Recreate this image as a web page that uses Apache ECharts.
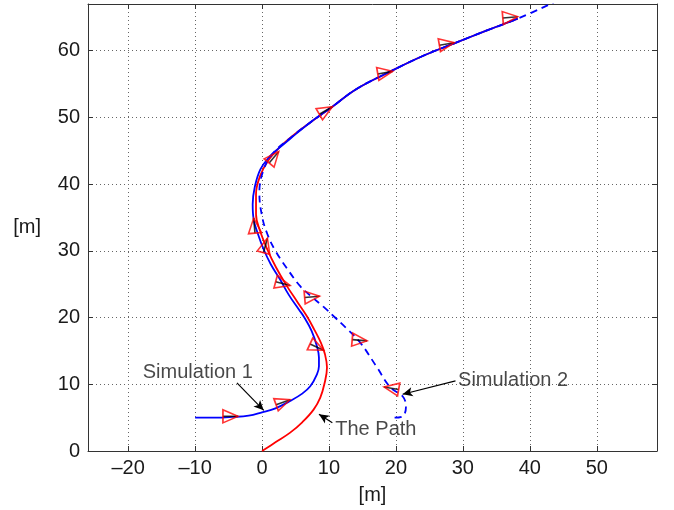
<!DOCTYPE html>
<html>
<head>
<meta charset="utf-8">
<script src="https://cdn.jsdelivr.net/npm/echarts@6/dist/echarts.min.js"></script>
<style>
  html, body { margin: 0; padding: 0; background: #fff; }
  #chart { width: 674px; height: 510px; }
</style>
</head>
<body>
<div id="chart"></div>
<script>
// axis ticks
const xTicks = [-20, -10, 0, 10, 20, 30, 40, 50]
const yTicks = [0, 10, 20, 30, 40, 50, 60]

// The Path (red)
const pathX = [0, 2, 4.2, 6, 7.7, 8.7, 9.3, 9.7, 9.4, 8.8, 7.8, 6.7, 5.3, 3.6, 2.1, 0.8, -0.3, -0.9, -0.9, -0.3, 0.9, 2.6, 4.5, 7, 10.5, 14, 19.2, 24, 28.7, 33.5, 38.2]
const pathY = [0, 1.3, 2.75, 4.3, 6.2, 8, 10, 12.5, 14.5, 16.2, 18.2, 20.2, 22.3, 24.9, 27.5, 30.2, 33, 35.5, 38.5, 41.2, 43.5, 45.5, 47.2, 49.1, 51.6, 54.2, 56.9, 59.2, 61.1, 63, 64.8]

// Simulation 1 (blue solid)
const sim1X = [-10, -7, -4.5, -2, 0, 2, 4.2, 6, 7.2, 8.2, 8.5, 8.5, 8.2, 7.4, 6.2, 5.5, 4, 2.7, 1.3, 0.25, -0.6, -1.25, -1.4, -1.1, -0.25, 1.2, 2.3, 4.2, 7, 10.5, 14, 19.2, 24, 28.7, 33.5, 38.2]
const sim1Y = [5, 5, 5.1, 5.3, 5.8, 6.4, 7.5, 8.6, 9.7, 11.5, 12.7, 14, 15.7, 18, 20.2, 21.2, 23.4, 25.7, 28, 30.2, 32.5, 34.7, 37, 39.5, 42.2, 44.2, 45.2, 46.8, 49.1, 51.6, 54.2, 56.9, 59.2, 61.1, 63, 64.8]

// Simulation 2 (blue dashed)
const sim2X = [19.8, 21, 21.5, 21, 19.2, 17, 14.7, 12.5, 10.7, 9.2, 7.2, 5.7, 3.7, 2, 0.8, 0, -0.4, 0.25, 1.7, 4.2, 7, 10.5, 14, 19.2, 24, 28.7, 33.5, 38.2, 43.5]
const sim2Y = [5, 5.2, 6.7, 8.2, 9.5, 12.8, 16.2, 18.5, 20.2, 21.6, 23.3, 24.7, 27.4, 30, 32.5, 35.2, 38.7, 42.2, 44.7, 46.9, 49.1, 51.6, 54.2, 56.9, 59.2, 61.1, 63, 64.8, 67.2]

// heading markers: apex position and heading angle (deg)
const markX = [-3.6, 4.2, 9.2, 4.2, -1.25, 2.5, 10.5, 19.5, 28.7, 38.2, 18.2, 15.7, 8.6, 0.8]
const markY = [5.2, 7.7, 15.1, 24.8, 34.9, 44.9, 51.6, 56.9, 61.2, 65.1, 9.6, 16.5, 23.2, 31.9]
const markHeading = [0, 20, -25, -15, 95, 50, 30, 10, 10, 5, 170, -5, 5, 75]

// annotations
const annoText = ['Simulation 1', 'Simulation 2', 'The Path']
const annoX = [-9.6, 37.5, 17]
const annoY = [11.7, 10.6, 3.25]
const arrowFrom = [[-3.75, 10.2], [28.9, 10.5], [10.5, 4.25]]
const arrowTo = [[0.25, 6.1], [21, 8.5], [8.5, 5.5]]

const zip = (xs, ys) => xs.map((x, i) => [x, ys[i]])

const FONT = 'Liberation Sans, Arial, sans-serif'
const TEXT = '#1a1a1a'
const MARK_LEN = 15

const markOffset = (h) => {
  const r = h * Math.PI / 180
  return [-(MARK_LEN / 2) * Math.cos(r), (MARK_LEN / 2) * Math.sin(r)]
}

const triData = markX.map((x, i) => ({
  value: [x, markY[i]],
  symbolRotate: markHeading[i] - 90,
  symbolOffset: markOffset(markHeading[i])
}))

const chart = echarts.init(document.getElementById('chart'))

const baseX = {
  type: 'value',
  min: -26,
  max: 59,
  axisLine: { show: true, onZero: false, lineStyle: { color: '#333', width: 1 } },
  axisTick: { show: true, inside: true, length: 5, customValues: xTicks, lineStyle: { color: '#333' } }
}
const baseY = {
  type: 'value',
  min: 0,
  max: 67,
  axisLine: { show: true, onZero: false, lineStyle: { color: '#333', width: 1 } },
  axisTick: { show: true, inside: true, length: 5, customValues: yTicks, lineStyle: { color: '#333' } }
}

const option = {
  animation: false,
  grid: { left: 88, right: 17, top: 4, bottom: 58, containLabel: false },
  xAxis: [
    Object.assign({}, baseX, {
      position: 'bottom',
      name: '[m]',
      nameLocation: 'middle',
      nameGap: 34,
      nameTextStyle: { fontFamily: FONT, fontSize: 20, color: TEXT },
      axisLabel: {
        customValues: xTicks,
        margin: 7,
        fontFamily: FONT,
        fontSize: 20,
        color: TEXT,
        formatter: (v) => (v < 0 ? '\u2013' + Math.abs(v) : String(v))
      },
      splitLine: { show: true, lineStyle: { color: '#666', type: [1, 3], width: 1 } }
    }),
    Object.assign({}, baseX, {
      position: 'top',
      axisLabel: { show: false },
      splitLine: { show: false }
    })
  ],
  yAxis: [
    Object.assign({}, baseY, {
      position: 'left',
      name: '[m]',
      nameLocation: 'middle',
      nameRotate: 0,
      nameGap: 47,
      nameTextStyle: { fontFamily: FONT, fontSize: 20, color: TEXT },
      axisLabel: { customValues: yTicks, margin: 8, fontFamily: FONT, fontSize: 20, color: TEXT },
      splitLine: { show: true, lineStyle: { color: '#666', type: [1, 3], width: 1 } }
    }),
    Object.assign({}, baseY, {
      position: 'right',
      axisLabel: { show: false },
      splitLine: { show: false }
    })
  ],
  series: [
    {
      name: 'The Path',
      type: 'line',
      data: zip(pathX, pathY),
      smooth: 0.4,
      showSymbol: false,
      clip: true,
      lineStyle: { color: '#ff0000', width: 1.8 }
    },
    {
      name: 'Simulation 2',
      type: 'line',
      data: zip(sim2X, sim2Y),
      smooth: 0.4,
      showSymbol: false,
      clip: true,
      lineStyle: { color: '#0000ff', width: 1.8, type: [7, 5] }
    },
    {
      name: 'Simulation 1',
      type: 'line',
      data: zip(sim1X, sim1Y),
      smooth: 0.4,
      showSymbol: false,
      clip: true,
      lineStyle: { color: '#0000ff', width: 1.8 }
    },
    {
      name: 'heading',
      type: 'scatter',
      data: triData,
      symbol: 'path://M0,0L2,0L2,28L0,28Z',
      symbolSize: [1.6, MARK_LEN],
      itemStyle: { color: '#000' },
      z: 3
    },
    {
      name: 'markers',
      type: 'scatter',
      data: triData,
      symbol: 'triangle',
      symbolSize: [13, MARK_LEN],
      itemStyle: { color: 'rgba(0,0,0,0)', borderColor: '#ff0000', borderWidth: 1.6 },
      z: 4
    },
    {
      name: 'annotations',
      type: 'scatter',
      data: annoX.map((x, i) => ({ value: [x, annoY[i]], name: annoText[i] })),
      symbolSize: 1,
      itemStyle: { color: 'rgba(0,0,0,0)' },
      label: {
        show: true,
        position: 'inside',
        formatter: (p) => p.name,
        fontFamily: FONT,
        fontSize: 20,
        color: TEXT
      },
      markLine: {
        silent: true,
        symbol: ['none', 'arrow'],
        symbolSize: [7, 10],
        label: { show: false },
        lineStyle: { color: '#000', width: 1.2, type: 'solid' },
        data: arrowFrom.map((f, i) => [{ coord: f }, { coord: arrowTo[i] }])
      },
      z: 5
    }
  ]
}

chart.setOption(option)
</script>
</body>
</html>
